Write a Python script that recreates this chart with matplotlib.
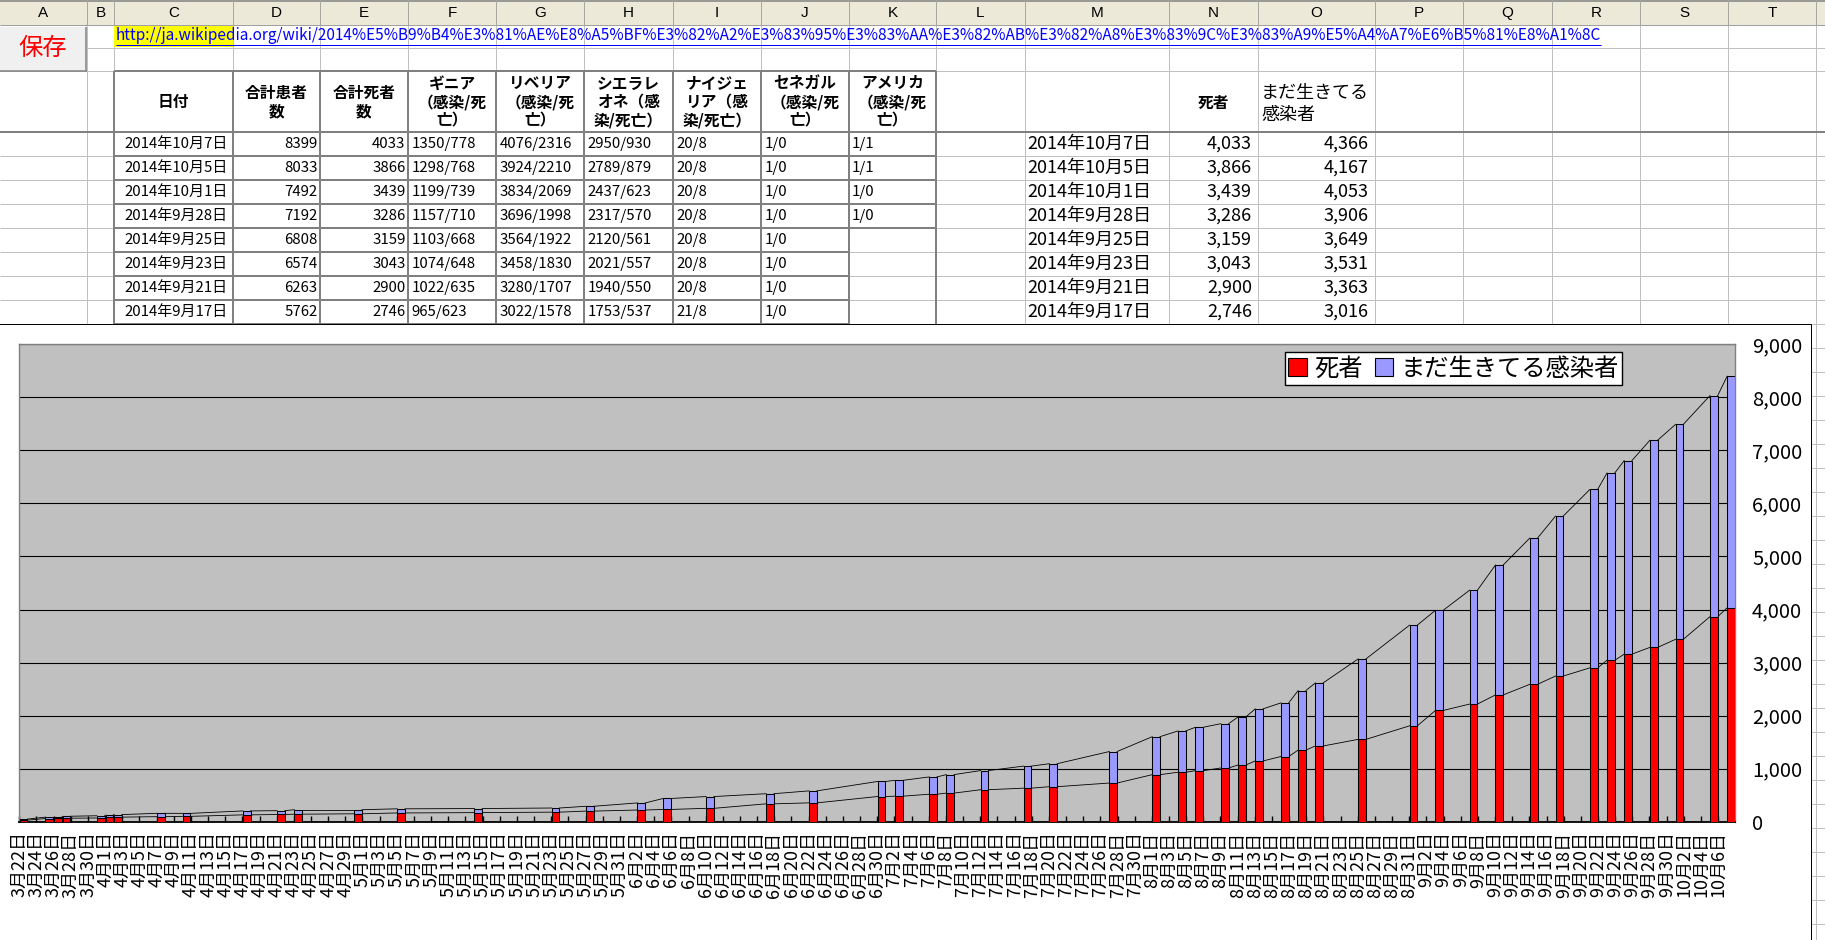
import datetime as dt
import numpy as np
import matplotlib
matplotlib.use('Agg')
import matplotlib.pyplot as plt
import matplotlib.dates as mdates
from matplotlib.patches import Rectangle, Patch

plt.rcParams['font.family'] = ['Noto Sans CJK JP', 'DejaVu Sans']

W, H = 1825, 940

# ---- chart data ----
bar_dates = ['2014-03-22', '2014-03-25', '2014-03-26', '2014-03-27', '2014-03-31',
             '2014-04-01', '2014-04-02', '2014-04-07', '2014-04-10', '2014-04-17',
             '2014-04-21', '2014-04-23', '2014-04-30', '2014-05-05', '2014-05-14',
             '2014-05-23', '2014-05-27', '2014-06-02', '2014-06-05', '2014-06-10',
             '2014-06-17', '2014-06-22', '2014-06-30', '2014-07-02', '2014-07-06',
             '2014-07-08', '2014-07-12', '2014-07-17', '2014-07-20', '2014-07-27',
             '2014-08-01', '2014-08-04', '2014-08-06', '2014-08-09', '2014-08-11',
             '2014-08-13', '2014-08-16', '2014-08-18', '2014-08-20', '2014-08-25',
             '2014-08-31', '2014-09-03', '2014-09-07', '2014-09-10', '2014-09-14',
             '2014-09-17', '2014-09-21', '2014-09-23', '2014-09-25', '2014-09-28',
             '2014-10-01', '2014-10-05', '2014-10-07']
deaths = [29, 60, 62, 66, 70, 83, 86, 95, 101, 129,
          136, 142, 149, 165, 171, 180, 200, 220, 231, 252,
          337, 355, 475, 481, 518, 539, 603, 632, 660, 729,
          887, 932, 961, 1013, 1069, 1145, 1229, 1350, 1427, 1552,
          1808, 2097, 2218, 2390, 2590, 2746, 2900, 3043, 3159, 3286,
          3439, 3866, 4033]
alive = [20, 26, 24, 37, 42, 44, 48, 63, 56, 74,
         72, 84, 77, 78, 77, 78, 91, 134, 207, 222,
         191, 226, 284, 298, 326, 349, 361, 416, 433, 594,
         716, 779, 818, 835, 906, 982, 1011, 1123, 1188, 1517,
         1899, 1888, 2148, 2450, 2757, 3016, 3363, 3531, 3649, 3906,
         4053, 4167, 4366]
y_ticks = [0, 1000, 2000, 3000, 4000, 5000, 6000, 7000, 8000, 9000]
legend_labels = ['死者', 'まだ生きてる感染者']

# ---- sheet data ----
col_letters = list('ABCDEFGHIJKLMNOPQRST')
col_edges = [0, 87, 114, 233, 320, 408, 496, 584, 673, 761, 849,
             936, 1025, 1169, 1258, 1375, 1463, 1552, 1640, 1728, 1816]
url = ('http://ja.wikipedia.org/wiki/2014%E5%B9%B4%E3%81%AE%E8%A5%BF%E3%82%A2'
       '%E3%83%95%E3%83%AA%E3%82%AB%E3%82%A8%E3%83%9C%E3%83%A9%E5%A4%A7%E6%B5%81%E8%A1%8C')
head_cells = ['日付', '合計患者\n数', '合計死者\n数', 'ギニア\n（感染/死\n亡）',
              'リベリア\n（感染/死\n亡）', 'シエラレ\nオネ（感\n染/死亡）',
              'ナイジェ\nリア（感\n染/死亡）', 'セネガル\n（感染/死\n亡）',
              'アメリカ\n（感染/死\n亡）']
tbl_dates = ['2014年10月7日', '2014年10月5日', '2014年10月1日', '2014年9月28日',
             '2014年9月25日', '2014年9月23日', '2014年9月21日', '2014年9月17日']
tbl_total = [8399, 8033, 7492, 7192, 6808, 6574, 6263, 5762]
tbl_deaths = [4033, 3866, 3439, 3286, 3159, 3043, 2900, 2746]
tbl_guinea = ['1350/778', '1298/768', '1199/739', '1157/710', '1103/668', '1074/648', '1022/635', '965/623']
tbl_liberia = ['4076/2316', '3924/2210', '3834/2069', '3696/1998', '3564/1922', '3458/1830', '3280/1707', '3022/1578']
tbl_sierra = ['2950/930', '2789/879', '2437/623', '2317/570', '2120/561', '2021/557', '1940/550', '1753/537']
tbl_nigeria = ['20/8', '20/8', '20/8', '20/8', '20/8', '20/8', '20/8', '21/8']
tbl_senegal = ['1/0', '1/0', '1/0', '1/0', '1/0', '1/0', '1/0', '1/0']
tbl_usa = ['1/1', '1/1', '1/0', '1/0']
tbl_alive = [4366, 4167, 4053, 3906, 3649, 3531, 3363, 3016]

row_edges = [0, 25, 48, 71, 132] + [132 + 24 * i for i in range(1, 34)]

fig = plt.figure(figsize=(W / 100, H / 100), dpi=100)
sh = fig.add_axes([0, 0, 1, 1])
sh.set_xlim(0, W)
sh.set_ylim(H, 0)
sh.axis('off')

PX = 0.72  # one pixel in points


def hline(y, x0, x1, color, lw=1, z=2):
    sh.plot([x0, x1], [y, y], color=color, lw=lw * PX, zorder=z, solid_capstyle='butt')


def vline(x, y0, y1, color, lw=1, z=2):
    sh.plot([x, x], [y0, y1], color=color, lw=lw * PX, zorder=z, solid_capstyle='butt')


# cell gridlines
grid_c = '#C0C0C0'
for y in row_edges[2:]:
    hline(y, 0, W, grid_c)
for x in col_edges[1:]:
    vline(x, 25, H, grid_c)

# column header row
sh.add_patch(Rectangle((0, 0), W, 25, facecolor='#ECE9D8', edgecolor='none', zorder=3))
hline(0.8, 0, W, '#808080', 1.5, 4)
hline(25, 0, W, '#A0A0A0', 1, 4)
for i, name in enumerate(col_letters):
    vline(col_edges[i + 1], 0, 25, '#A8A8A0', 1, 4)
    sh.text((col_edges[i] + col_edges[i + 1]) / 2, 13, name, ha='center', va='center',
            fontsize=11, family=['Liberation Sans'], zorder=5)

# save button
sh.add_patch(Rectangle((0, 25), 87, 46, facecolor='#F0F0F0', edgecolor='none', zorder=3))
hline(70.5, 0, 87, '#808080', 1.5, 4)
vline(86.5, 25, 71, '#808080', 1.5, 4)
hline(25.5, 0, 87, 'white', 1, 4)
sh.text(43, 48, '保存', ha='center', va='center', color='#FF0000', fontsize=17.5, zorder=5)

# hyperlink
sh.add_patch(Rectangle((114, 26), 119, 21, facecolor='#FFFF00', edgecolor='none', zorder=3))
url_t = sh.text(116, 36, url, ha='left', va='center', color='#0000FF', fontsize=10.5, zorder=5)
fig.canvas.draw()
bb = url_t.get_window_extent()
url_t.set_fontsize(10.5 * (1603 - 116) / bb.width)
fig.canvas.draw()
bb = url_t.get_window_extent()
hline(45, bb.x0, bb.x1, '#0000FF', 1, 5)

# table header row
for i, txt in enumerate(head_cells):
    cx = (col_edges[i + 2] + col_edges[i + 3]) / 2
    sh.text(cx, 102, txt, ha='center', va='center', multialignment='center',
            fontsize=11.3, fontweight='bold', linespacing=1.2, zorder=5)
sh.text((col_edges[13] + col_edges[14]) / 2, 103, '死者', ha='center', va='center',
        fontsize=11.3, fontweight='bold', zorder=5)
sh.text(1261, 104, 'まだ生きてる\n感染者', ha='left', va='center', fontsize=13,
        linespacing=1.25, zorder=5)

# table rows
fs = 10.8
for r in range(8):
    yc = 144 + 24 * r
    sh.text(228, yc, tbl_dates[r], ha='right', va='center', fontsize=fs, zorder=5)
    sh.text(317.5, yc, str(tbl_total[r]), ha='right', va='center', fontsize=fs, zorder=5)
    sh.text(405.5, yc, str(tbl_deaths[r]), ha='right', va='center', fontsize=fs, zorder=5)
    for k, col in enumerate([tbl_guinea, tbl_liberia, tbl_sierra, tbl_nigeria, tbl_senegal]):
        sh.text(col_edges[5 + k] + 3.5, yc, col[r], ha='left', va='center', fontsize=fs, zorder=5)
    if r < len(tbl_usa):
        sh.text(col_edges[10] + 3, yc, tbl_usa[r], ha='left', va='center', fontsize=fs, zorder=5)
    sh.text(1027, yc, tbl_dates[r], ha='left', va='center', fontsize=13, zorder=5)
    sh.text(1252, yc, f'{tbl_deaths[r]:,}', ha='right', va='center', fontsize=13, zorder=5)
    sh.text(1369, yc, f'{tbl_alive[r]:,}', ha='right', va='center', fontsize=13, zorder=5)

# table borders
bc = '#808080'
hline(132, 0, W, bc, 2, 4)
hline(71, col_edges[2], col_edges[11], bc, 2, 4)
for r in range(1, 9):
    y = 132 + 24 * r
    x_end = col_edges[11] if r <= 4 else col_edges[10]
    hline(y, col_edges[2], x_end, bc, 2, 4)
for x in col_edges[2:12]:
    vline(x, 71, 324, bc, 2, 4)

# chart area
sh.add_patch(Rectangle((-3, 324), 1811 + 3, 640, facecolor='white', edgecolor='black',
                       lw=1 * PX, zorder=6))

# ---- chart ----
cx0, cx1, cy0, cy1 = 19.3, 1735.3, 344.3, 821.7
ax = fig.add_axes([cx0 / W, 1 - cy1 / H, (cx1 - cx0) / W, (cy1 - cy0) / H])
ax.set_facecolor('#C0C0C0')

x = mdates.date2num([dt.date.fromisoformat(d) for d in bar_dates])
d_arr = np.array(deaths)
t_arr = d_arr + np.array(alive)
bw = 0.9

ax.bar(x, deaths, width=bw, color='#FF0000', edgecolor='black', linewidth=0.75, zorder=3)
ax.bar(x, alive, bottom=deaths, width=bw, color='#9999FF', edgecolor='black',
       linewidth=0.75, zorder=3)

# series lines joining the bar tops
for top in (d_arr, t_arr):
    for i in range(len(x) - 1):
        ax.plot([x[i] + bw / 2, x[i + 1] - bw / 2], [top[i], top[i + 1]],
                color='black', lw=0.6, zorder=2)

ax.set_xlim(x[0] - 0.5, x[-1] + 0.5)
ax.set_ylim(0, 9000)

ticks = np.arange(x[0], x[-1], 2) - 0.5
ax.set_xticks(ticks)
tick_labels = []
for t in ticks:
    d = mdates.num2date(t + 0.5)
    tick_labels.append(f'{d.month}月{d.day}日')
ax.set_xticklabels(tick_labels, rotation=90, fontsize=13)
ax.tick_params(axis='x', direction='in', length=4.5, width=1, color='black', pad=7)

ax.yaxis.tick_right()
ax.set_yticks(y_ticks)
ax.set_yticklabels([f'{v:,}' for v in y_ticks], fontsize=14.5)
ax.tick_params(axis='y', length=0, pad=12)

ax.set_axisbelow(True)
ax.yaxis.grid(True, color='black', lw=0.8)

for s in ('top', 'left', 'right'):
    ax.spines[s].set_color('#808080')
    ax.spines[s].set_linewidth(1)
ax.spines['bottom'].set_color('black')
ax.spines['bottom'].set_linewidth(1.3)

handles = [Patch(facecolor='#FF0000', edgecolor='black', lw=0.8, label=legend_labels[0]),
           Patch(facecolor='#9999FF', edgecolor='black', lw=0.8, label=legend_labels[1])]
leg = ax.legend(handles=handles, ncol=2, loc='upper right',
                bbox_to_anchor=(1622 / W, 1 - 352 / H), bbox_transform=fig.transFigure,
                fancybox=False, edgecolor='black', framealpha=1, fontsize=17.5,
                handlelength=0.75, handleheight=0.75, handletextpad=0.3,
                columnspacing=0.5, borderpad=0.15, borderaxespad=0)
leg.get_frame().set_linewidth(1)

fig.savefig('out.png', dpi=100)
